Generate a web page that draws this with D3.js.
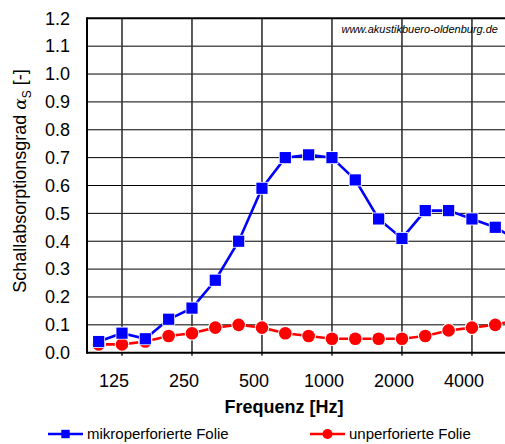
<!DOCTYPE html>
<html><head><meta charset="utf-8">
<script src="https://cdn.jsdelivr.net/npm/d3@7"></script>
<style>
body{margin:0;background:#fff;}
svg{display:block;font-family:"Liberation Sans",Arial,sans-serif;}
</style></head>
<body><div id="chart"></div>
<script>
const frequencies = ["100","125","160","200","250","315","400","500","630","800","1000","1250","1600","2000","2500","3150","4000","5000","6300"];
const mikroperforiert = [0.04,0.07,0.05,0.12,0.16,0.26,0.40,0.59,0.70,0.71,0.70,0.62,0.48,0.41,0.51,0.51,0.48,0.45,0.40];
const unperforiert   = [0.03,0.03,0.04,0.06,0.07,0.09,0.10,0.09,0.07,0.06,0.05,0.05,0.05,0.05,0.06,0.08,0.09,0.10,0.12];
const xTickLabels = ["125","250","500","1000","2000","4000"];
const yTicks = [0.0,0.1,0.2,0.3,0.4,0.5,0.6,0.7,0.8,0.9,1.0,1.1,1.2];
const seriesNames = ["mikroperforierte Folie","unperforierte Folie"];

(function(){
const W = 505, H = 444;
const pL = 87, pT = 18.3, pB = 352.7, step = 23.33;
const pR = pL + 18 * step; // plot right border (beyond window)

const svg = d3.select("#chart").append("svg").attr("width", W).attr("height", H);

const x = d3.scalePoint().domain(frequencies).range([pL, pL + 19 * step]).padding(0.5);
const y = d3.scaleLinear().domain([0, 1.2]).range([pB, pT]);

svg.append("defs").append("clipPath").attr("id","clip")
  .append("rect").attr("x", pL).attr("y", pT - 8).attr("width", pR - pL).attr("height", pB - pT + 16);

// horizontal gridlines
svg.append("g").selectAll("line").data(yTicks.slice(1, -1)).join("line")
  .attr("x1", pL).attr("x2", pR).attr("y1", d => y(d)).attr("y2", d => y(d))
  .attr("stroke", "#000").attr("stroke-width", 1);
// vertical gridlines
svg.append("g").selectAll("line").data(xTickLabels).join("line")
  .attr("x1", d => x(d)).attr("x2", d => x(d)).attr("y1", pT).attr("y2", pB + 3)
  .attr("stroke", "#333").attr("stroke-width", 1.6);

// border
svg.append("line").attr("x1", pL).attr("x2", pR).attr("y1", pT).attr("y2", pT).attr("stroke","#000").attr("stroke-width",2);
svg.append("line").attr("x1", pL).attr("x2", pR).attr("y1", pB).attr("y2", pB).attr("stroke","#000").attr("stroke-width",2);
svg.append("line").attr("x1", pL).attr("x2", pL).attr("y1", pT - 1).attr("y2", pB + 1).attr("stroke","#000").attr("stroke-width",2);
svg.append("line").attr("x1", pR).attr("x2", pR).attr("y1", pT - 1).attr("y2", pB + 1).attr("stroke","#000").attr("stroke-width",2);

// y labels
svg.append("g").selectAll("text").data(yTicks).join("text")
  .attr("x", 70).attr("y", d => y(d)).attr("dy", "0.35em")
  .attr("text-anchor", "end").attr("font-size", 18).attr("fill", "#000")
  .text(d => d.toFixed(1));

// x labels
svg.append("g").selectAll("text").data(xTickLabels).join("text")
  .attr("x", d => x(d) - 8).attr("y", 387)
  .attr("text-anchor", "middle").attr("font-size", 18).attr("fill", "#000")
  .text(d => d);

// axis titles
svg.append("text").attr("x", 284).attr("y", 413).attr("text-anchor","middle")
  .attr("font-size", 18).attr("font-weight","bold").text("Frequenz [Hz]");
const yt = svg.append("text").attr("transform","translate(26,181) rotate(-90)")
  .attr("text-anchor","middle").attr("font-size", 18);
yt.append("tspan").text("Schallabsorptionsgrad ");
yt.append("tspan").attr("font-style","italic").attr("font-family","DejaVu Serif, serif").attr("font-size",17).text("α");
yt.append("tspan").attr("font-size", 12).attr("dy", 5).text("S");
yt.append("tspan").attr("dy", -5).text(" [-]");

// watermark
svg.append("text").attr("x", 498).attr("y", 33).attr("text-anchor","end")
  .attr("font-size", 11).attr("font-style","italic").text("www.akustikbuero-oldenburg.de");

const plot = svg.append("g").attr("clip-path","url(#clip)");
const line = d3.line().x((d,i) => x(frequencies[i])).y(d => y(d));

function drawSeries(vals, color, shape) {
  plot.append("path").datum(vals).attr("d", line)
    .attr("fill","none").attr("stroke", color).attr("stroke-width", 2.6);
  const g = plot.append("g");
  vals.forEach((v, i) => {
    const cx = x(frequencies[i]), cy = y(v);
    if (shape === "square") {
      g.append("rect").attr("x", cx - 5.6).attr("y", cy - 5.6).attr("width", 11.2).attr("height", 11.2)
        .attr("fill", color).attr("stroke", "#fff").attr("stroke-width", 1.6).attr("paint-order","stroke");
    } else {
      g.append("circle").attr("cx", cx).attr("cy", cy).attr("r", 6.3)
        .attr("fill", color).attr("stroke", "#fff").attr("stroke-width", 2).attr("paint-order","stroke");
    }
  });
}
drawSeries(unperforiert, "#ff0000", "circle");
drawSeries(mikroperforiert, "#0000ff", "square");

// legend
const ly = 434;
const lg = svg.append("g");
lg.append("line").attr("x1", 48).attr("x2", 83).attr("y1", ly).attr("y2", ly).attr("stroke","#0000ff").attr("stroke-width",2.6);
lg.append("rect").attr("x", 65.5 - 4.2).attr("y", ly - 4.2).attr("width", 8.4).attr("height", 8.4).attr("fill","#0000ff");
lg.append("text").attr("x", 87).attr("y", ly + 5).attr("font-size", 15).text(seriesNames[0]);
lg.append("line").attr("x1", 310).attr("x2", 345).attr("y1", ly).attr("y2", ly).attr("stroke","#ff0000").attr("stroke-width",2.6);
lg.append("circle").attr("cx", 327.5).attr("cy", ly).attr("r", 5).attr("fill","#ff0000");
lg.append("text").attr("x", 349).attr("y", ly + 5).attr("font-size", 15).text(seriesNames[1]);
})();
</script></body></html>
